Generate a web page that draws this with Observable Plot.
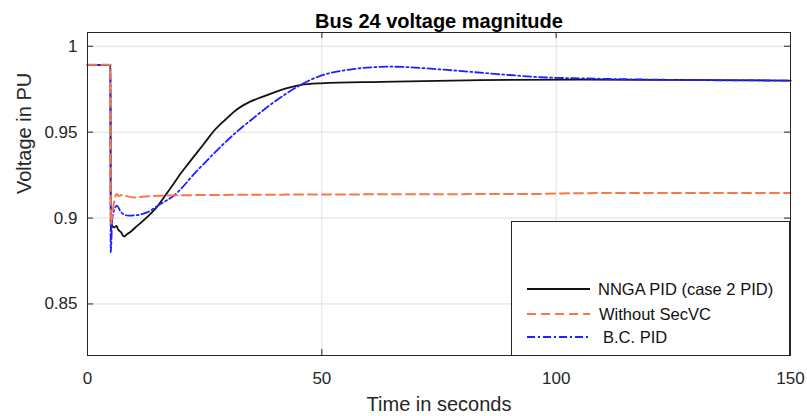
<!DOCTYPE html>
<html><head><meta charset="utf-8">
<script src="https://cdn.jsdelivr.net/npm/d3@7"></script>
<script src="https://cdn.jsdelivr.net/npm/@observablehq/plot@0.6"></script>
<style>
body{margin:0;background:#fff;}
#wrap{position:relative;width:807px;height:416px;font-family:"Liberation Sans",Arial,sans-serif;}
#legend{position:absolute;left:511px;top:221px;width:279px;height:135px;box-sizing:border-box;border:1px solid #262626;background:#fff;}
#legend svg{position:absolute;left:0;top:0;}
</style></head><body><div id="wrap"><div id="legend"></div></div>
<script>
const xTicks = [0, 50, 100, 150];
const yTicks = [0.85, 0.9, 0.95, 1];
const seriesNames = ["NNGA PID (case 2 PID)", "Without SecVC", "B.C. PID"];

const nngaT = [0, 4.9, 4.95, 5.1, 5.4, 5.7, 6.2, 6.5, 6.8, 7.2, 7.5, 7.8, 8.2, 8.5, 9.2, 10.2, 11.5, 12.7, 14.5, 16.3, 18, 19.8, 21.6, 23.4, 25.2, 27, 29.5, 32, 34.5, 37, 41.2, 45.4, 49.7, 62.5, 83.8, 105.2, 125, 150];
const nngaV = [0.9892, 0.9892, 0.8926, 0.8965, 0.8950, 0.8946, 0.8955, 0.8935, 0.8925, 0.8916, 0.8900, 0.8892, 0.8900, 0.8907, 0.8920, 0.8945, 0.8975, 0.9005, 0.9055, 0.9120, 0.9185, 0.9256, 0.9320, 0.9382, 0.9445, 0.9508, 0.9575, 0.9635, 0.9675, 0.9702, 0.9745, 0.9774, 0.9784, 0.9793, 0.9803, 0.9806, 0.9804, 0.9800];

const noSecT = [0, 4.9, 4.95, 5.6, 6.2, 6.7, 7.5, 8.5, 10, 12, 16, 25, 50, 75, 95, 105, 150];
const noSecV = [0.9892, 0.9892, 0.8965, 0.9082, 0.9140, 0.9128, 0.9136, 0.9126, 0.9120, 0.9125, 0.9130, 0.9134, 0.9137, 0.9139, 0.9140, 0.9145, 0.9146];

const bcT = [0, 4.9, 4.95, 5.3, 5.9, 6.3, 7, 7.8, 8.8, 10.2, 12.7, 15.5, 18.4, 23.4, 30.5, 36, 41.2, 45.4, 49.7, 55.4, 64.6, 76.7, 87.4, 98.1, 105.2, 120, 150];
const bcV = [0.9892, 0.9892, 0.8800, 0.9000, 0.9060, 0.9072, 0.9040, 0.9020, 0.9014, 0.9016, 0.9033, 0.9080, 0.9130, 0.9276, 0.9469, 0.9595, 0.9702, 0.9774, 0.9828, 0.9862, 0.9881, 0.9862, 0.9838, 0.9818, 0.9813, 0.9806, 0.9800];

const styles = [
  {stroke: "#111111", strokeWidth: 1.8, dash: null},
  {stroke: "#fb7646", strokeWidth: 2, dash: "9,5"},
  {stroke: "#2020ff", strokeWidth: 1.8, dash: "8,3,2,3"}
];

const toRows = (T, V, s) => T.map((t, i) => ({t, v: V[i], s}));
const rows = [
  ...toRows(nngaT, nngaV, seriesNames[0]),
  ...toRows(noSecT, noSecV, seriesNames[1]),
  ...toRows(bcT, bcV, seriesNames[2])
];

const innerH = 416 - 32 - 61;
const innerW = 807 - 87 - 17;
const tickLen = 6;

const lineMark = (i) => Plot.line(rows.filter(d => d.s === seriesNames[i]), {
  x: "t", y: "v", stroke: styles[i].stroke, strokeWidth: styles[i].strokeWidth,
  strokeDasharray: styles[i].dash || undefined, curve: "monotone-x"
});

const chart = Plot.plot({
  width: 807, height: 416,
  marginLeft: 87, marginRight: 17, marginTop: 32, marginBottom: 61,
  style: {fontFamily: "'Liberation Sans', Arial, sans-serif", background: "#fff", color: "#262626"},
  x: {domain: [0, 150]},
  y: {domain: [0.82, 1.008]},
  marks: [
    Plot.ruleX(xTicks.slice(1, -1), {stroke: "#dedede"}),
    Plot.ruleY(yTicks, {stroke: "#dedede"}),
    Plot.tickX(xTicks, {x: d => d, insetTop: innerH - tickLen, stroke: "#262626"}),
    Plot.tickX(xTicks, {x: d => d, insetBottom: innerH - tickLen, stroke: "#262626"}),
    Plot.tickY(yTicks, {y: d => d, insetRight: innerW - tickLen, stroke: "#262626"}),
    Plot.tickY(yTicks, {y: d => d, insetLeft: innerW - tickLen, stroke: "#262626"}),
    lineMark(0), lineMark(2), lineMark(1),
    Plot.frame({stroke: "#262626"}),
    Plot.axisX(xTicks, {tickSize: 0, tickPadding: 16, fontSize: 17, label: null}),
    Plot.axisY(yTicks, {tickSize: 0, tickPadding: 10, fontSize: 17, label: null, tickFormat: d => String(d)}),
    Plot.text(["Time in seconds"], {text: d => d, frameAnchor: "bottom", dy: 49, fontSize: 20, lineAnchor: "middle"}),
    Plot.text(["Voltage in PU"], {text: d => d, frameAnchor: "left", dx: -63, rotate: -90, fontSize: 20, lineAnchor: "middle"}),
    Plot.text(["Bus 24 voltage magnitude"], {text: d => d, frameAnchor: "top", dy: -5, fontSize: 20, fontWeight: "bold", lineAnchor: "bottom", fill: "#000"})
  ]
});
const wrap = document.getElementById("wrap");
wrap.insertBefore(chart, wrap.firstChild);

// legend
const leg = d3.select("#legend").append("svg").attr("width", 277).attr("height", 133)
  .style("font-family", "'Liberation Sans', Arial, sans-serif");
const legY = [67, 92, 115];
const legTextX = [86, 87, 91];
seriesNames.forEach((name, i) => {
  leg.append("line").attr("x1", 15).attr("x2", 78).attr("y1", legY[i]).attr("y2", legY[i])
    .attr("stroke", styles[i].stroke).attr("stroke-width", styles[i].strokeWidth)
    .attr("stroke-dasharray", styles[i].dash);
  leg.append("text").attr("x", legTextX[i]).attr("y", legY[i]).attr("dy", "0.35em")
    .attr("font-size", 16.5).attr("fill", "#111").text(name);
});
</script>
</body></html>
